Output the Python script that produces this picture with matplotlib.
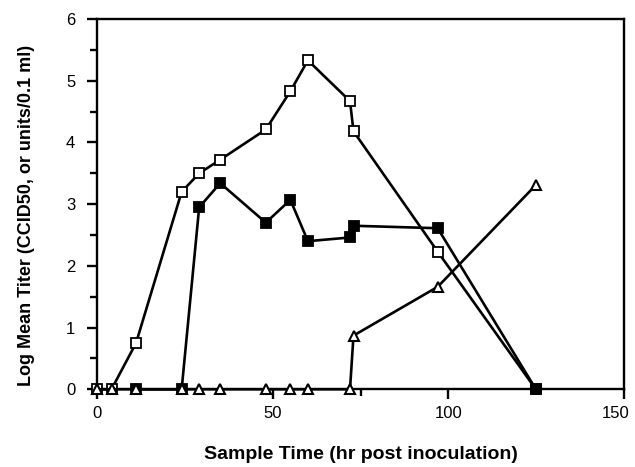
import matplotlib
matplotlib.use("Agg")
import matplotlib.pyplot as plt
import matplotlib.transforms as mtransforms
import numpy as np

# sample times (hr post inoculation)
hours = [0, 4, 11, 24, 29, 35, 48, 55, 60, 72, 73, 97, 125]
filled_hours = [11, 24, 29, 35, 48, 55, 60, 72, 73, 97, 125]

# log mean titer for the three series
open_sq = [0, 0, 0.75, 3.2, 3.5, 3.72, 4.21, 4.83, 5.33, 4.67, 4.18, 2.23, 0]
filled_sq = [0, 0, 2.95, 3.34, 2.70, 3.07, 2.40, 2.46, 2.65, 2.61, 0]
triangle = [0, 0, 0, 0, 0, 0, 0, 0, 0, 0, 0.87, 1.66, 3.31]

plt.rcParams['font.family'] = ['Liberation Sans', 'DejaVu Sans']

fig = plt.figure(figsize=(6.35, 4.67), dpi=100)
ax = fig.add_axes([0.1535, 0.1664, 0.8285, 0.7929])

ax.plot(hours, open_sq, color='black', lw=1.9, marker='s', ms=6.5,
        mfc='white', mec='black', mew=1.3, zorder=3, clip_on=False)
ax.plot(filled_hours, filled_sq, color='black', lw=1.9, marker='s', ms=6.5,
        mfc='black', mec='black', mew=1.3, zorder=4, clip_on=False)
ax.plot(hours, triangle, color='black', lw=1.9, marker='^', ms=6.5,
        mfc='white', mec='black', mew=1.5, zorder=5, clip_on=False)

ax.set_xlim(0, 150)
ax.set_ylim(0, 6)
ax.set_xticks([0, 50, 100, 150])
ax.set_xticks([75], minor=True)
ax.set_yticks(np.arange(0, 7, 1))
ax.set_yticks(np.arange(0.5, 6, 1), minor=True)

for s in ax.spines.values():
    s.set_linewidth(1.7)

ax.tick_params(axis='both', which='major', direction='out', length=7,
               width=1.7, labelsize=12)
ax.tick_params(axis='y', which='major', pad=9)
ax.tick_params(axis='x', which='major', pad=5)
ax.tick_params(axis='both', which='minor', direction='out', length=5,
               width=1.7)

# nudge the last x label so it stays inside the figure, like the original
last = ax.get_xticklabels()[-1]
last.set_transform(last.get_transform() +
                   mtransforms.ScaledTranslation(-8 / 100, 0, fig.dpi_scale_trans))

ax.set_xlabel('Sample Time (hr post inoculation)', fontsize=14,
              fontweight='bold', labelpad=18)
ax.set_ylabel('Log Mean Titer (CCID50, or units/0.1 ml)', fontsize=13,
              fontweight='bold')
ax.yaxis.set_label_coords(-0.118, 0.47)

fig.savefig('out.png', dpi=100)
